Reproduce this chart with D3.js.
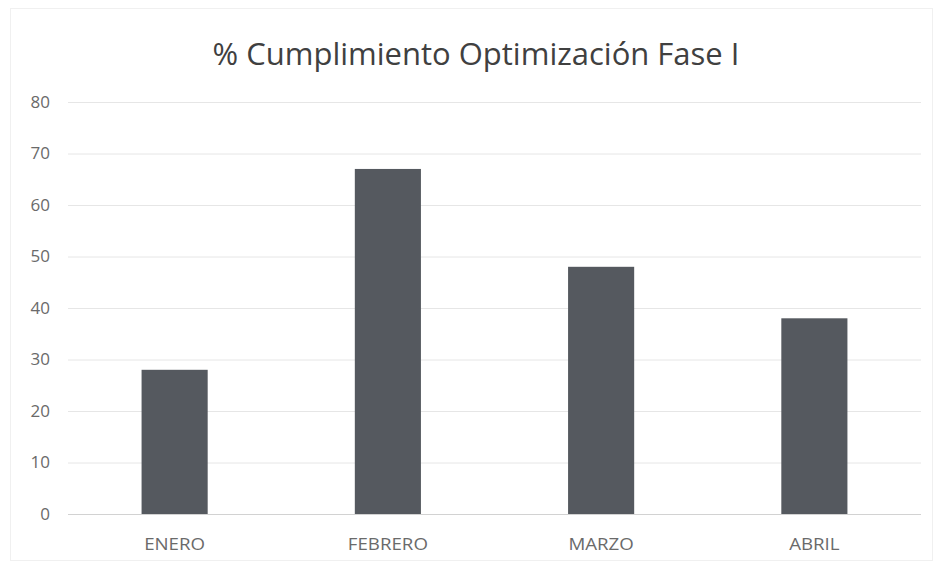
<!DOCTYPE html>
<html>
<head>
<meta charset="utf-8">
<script src="https://cdn.jsdelivr.net/npm/d3@7"></script>
<style>
  body { margin: 0; background: #fff; }
  #chart-area { width: 940px; height: 569px; }
</style>
</head>
<body>
<div id="chart-area"></div>
<script>
// data
let months = ["ENERO", "FEBRERO", "MARZO", "ABRIL"];
let values = [28, 67, 48, 38];
let yTicks = [0, 10, 20, 30, 40, 50, 60, 70, 80];
let title = "% Cumplimiento Optimización Fase I";

let margin = {top: 102, right: 19, bottom: 55, left: 68};
let width = 940 - margin.left - margin.right,
    height = 569 - margin.top - margin.bottom;

let svg = d3.select("#chart-area").append("svg")
    .attr("width", 940)
    .attr("height", 569);

// faint frame of the scanned chart
svg.append("rect")
    .attr("x", 10.5).attr("y", 8.5)
    .attr("width", 922).attr("height", 552)
    .attr("fill", "none")
    .attr("stroke", "#f0f0f0");

let g = svg.append("g")
    .attr("transform", "translate(" + margin.left + "," + margin.top + ")");

let x = d3.scaleBand()
    .domain(months)
    .range([0, width])
    .paddingInner(0.69)
    .paddingOuter(0.345);

let y = d3.scaleLinear()
    .domain([0, 80])
    .range([height, 0]);

// gridlines
g.selectAll(".grid")
    .data(yTicks)
    .enter().append("line")
    .attr("class", "grid")
    .attr("x1", 0)
    .attr("x2", width)
    .attr("y1", d => y(d) + 0.5)
    .attr("y2", d => y(d) + 0.5)
    .attr("stroke", d => d === 0 ? "#d2d2d2" : "#e6e6e6")
    .attr("stroke-width", 1);

// y axis labels
let yAxis = d3.axisLeft(y)
    .tickValues(yTicks)
    .tickSize(0)
    .tickPadding(18);

g.append("g")
    .attr("class", "y-axis")
    .call(yAxis)
    .call(a => a.select(".domain").remove())
    .selectAll("text")
    .attr("fill", "#6a6a6a")
    .style("font-family", "'Open Sans', sans-serif")
    .style("font-size", "17px");

// x axis labels
let xAxis = d3.axisBottom(x)
    .tickSize(0)
    .tickPadding(24);

g.append("g")
    .attr("class", "x-axis")
    .attr("transform", "translate(0," + height + ")")
    .call(xAxis)
    .call(a => a.select(".domain").remove())
    .selectAll("text")
    .attr("fill", "#6a6a6a")
    .style("font-family", "'Open Sans', sans-serif")
    .style("font-size", "17px")
    .attr("transform", "scale(1.1,1)");

// bars
g.selectAll(".bar")
    .data(values)
    .enter().append("rect")
    .attr("class", "bar")
    .attr("x", (d, i) => x(months[i]))
    .attr("y", d => y(d))
    .attr("width", x.bandwidth())
    .attr("height", d => height - y(d))
    .attr("fill", "#55595f");

// title
svg.append("text")
    .attr("x", 476)
    .attr("y", 65)
    .attr("text-anchor", "middle")
    .attr("fill", "#404040")
    .style("font-family", "'Open Sans', sans-serif")
    .style("font-size", "31px")
    .text(title);
</script>
</body>
</html>
